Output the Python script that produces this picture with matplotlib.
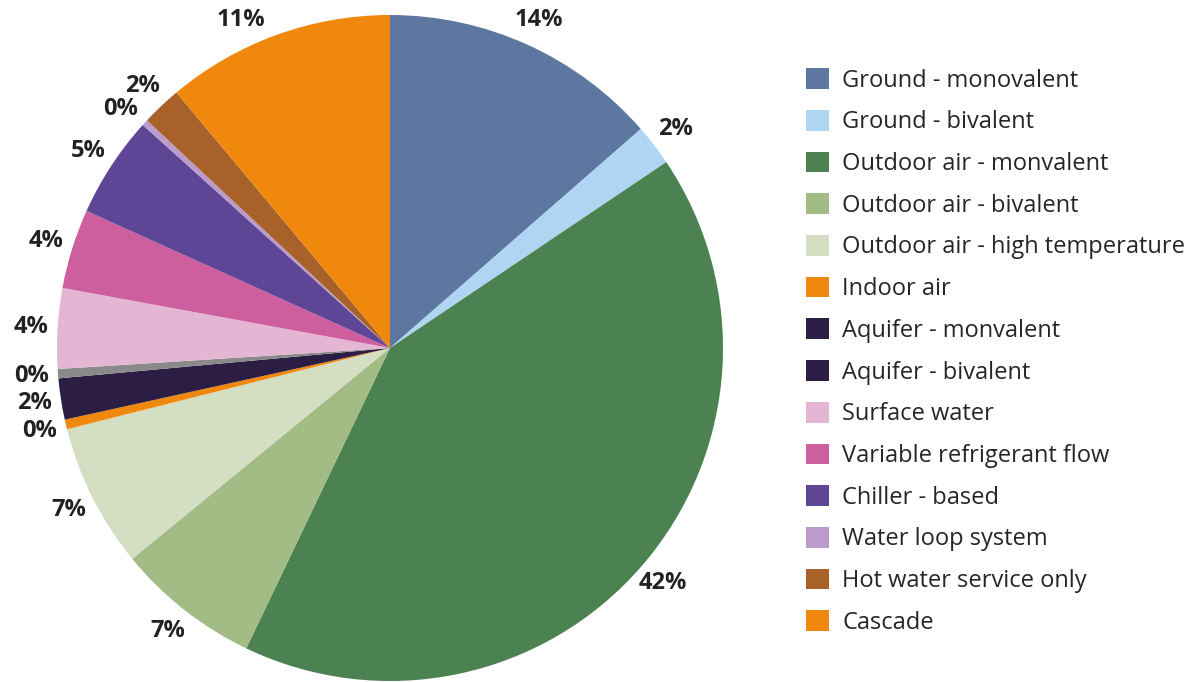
import numpy as np
import matplotlib
matplotlib.use("Agg")
import matplotlib.pyplot as plt
from matplotlib.patches import Patch

# slices, clockwise from 12 o'clock (percent)
categories = ["Ground - monovalent", "Ground - bivalent", "Outdoor air - monvalent",
              "Outdoor air - bivalent", "Outdoor air - high temperature", "Indoor air",
              "Aquifer - monvalent", "Aquifer - bivalent", "Surface water",
              "Variable refrigerant flow", "Chiller - based", "Water loop system",
              "Hot water service only", "Cascade"]
shares = [13.6, 2.0, 41.6, 7.0, 7.0, 0.47, 2.0, 0.45, 3.9, 3.87, 4.94, 0.3, 1.94, 11.1]
wedge_colors = ["#5e77a0", "#afd5f2", "#4c8152", "#a3bb85", "#d3dec2", "#f0880e",
                "#2c1d45", "#8a8a8a", "#e5b5d4", "#cd5f9f", "#5f4596", "#bb9bcb",
                "#a9612a", "#f0880e"]
legend_colors = wedge_colors[:7] + ["#2c1d45"] + wedge_colors[8:]

plt.rcParams["font.family"] = ["Open Sans", "DejaVu Sans"]

W, H = 1189, 682
fig = plt.figure(figsize=(W / 100, H / 100), dpi=100)
cx, cy, R = 390, 348, 333
ax = fig.add_axes([(cx - R) / W, (H - cy - R) / H, 2 * R / W, 2 * R / H])

wedges, _, pcts = ax.pie(shares, colors=wedge_colors, startangle=90, counterclock=False,
                         radius=1, autopct="%.0f%%", pctdistance=1.08,
                         wedgeprops=dict(linewidth=0),
                         textprops=dict(fontsize=17, fontweight="bold", color="#222222"))
ax.set_xlim(-1, 1)
ax.set_ylim(-1, 1)
ax.set_aspect("equal")
ax.axis("off")

# labels sit on a ring just outside the pie; crowded ones slide along the ring
renderer = fig.canvas.get_renderer()
ring = 360.0
top_room = cy - 20  # keep label centres at least 20px below the top edge
step = np.deg2rad(0.5)
placed = None
for w, t in reversed(list(zip(wedges, pcts))):
    bb = t.get_window_extent(renderer)
    hw, hh = bb.width / 2, bb.height * 0.4
    a = np.deg2rad((w.theta1 + w.theta2) / 2)
    # away from the top edge
    while ring * np.sin(a) > top_room:
        a += step if np.cos(a) < 0 else -step
    # away from the neighbour placed before (clockwise side)
    while placed is not None:
        px, py = ring * np.cos(a), ring * np.sin(a)
        qx, qy, qw, qh = placed
        if abs(px - qx) > hw + qw + 2 or abs(py - qy) > hh + qh + 2:
            break
        a += step
    px, py = ring * np.cos(a), ring * np.sin(a)
    t.set_position((px / R, py / R))
    placed = (px, py, hw, hh)

handles = [Patch(facecolor=c, edgecolor="none") for c in legend_colors]
fig.legend(handles, categories, loc="center left",
           bbox_to_anchor=(806 / W, 1 - 351.5 / H), frameon=False,
           fontsize=17, labelcolor="#262626", handlelength=0.975, handleheight=0.975,
           handletextpad=0.55, labelspacing=0.73, borderpad=0, borderaxespad=0)

fig.savefig("out.png", dpi=100)
